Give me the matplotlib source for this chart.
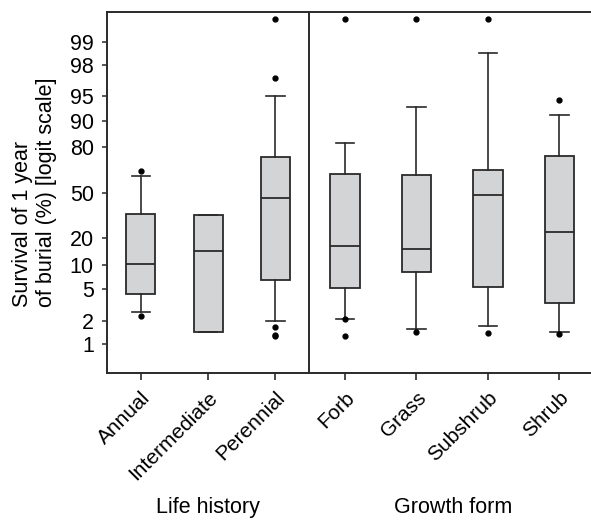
import matplotlib.pyplot as plt
from matplotlib.ticker import NullLocator, NullFormatter

plt.rcParams['font.family'] = ['Liberation Sans', 'DejaVu Sans']

# datos (porcentaje de supervivencia)
life_labels = ['Annual', 'Intermediate', 'Perennial']
life_q1 = [4.4, 1.43, 6.5]
life_med = [10.3, 14.5, 46.5]
life_q3 = [34.7, 33.8, 75.0]
life_lo = [2.6, 1.43, 2.0]
life_hi = [62.5, 33.8, 95.0]
life_fliers = [[66.0, 2.27], [], [99.5, 97.1, 1.66, 1.3, 1.24]]

form_labels = ['Forb', 'Grass', 'Subshrub', 'Shrub']
form_q1 = [5.2, 8.3, 5.3, 3.4]
form_med = [16.5, 15.3, 48.2, 23.3]
form_q3 = [63.7, 63.0, 66.7, 75.3]
form_lo = [2.1, 1.54, 1.68, 1.40]
form_hi = [81.9, 93.3, 98.6, 91.6]
form_fliers = [[99.5, 2.1, 1.24], [99.5, 1.43], [99.5, 1.38], [94.4, 1.32]]

ytick_vals = [1, 2, 5, 10, 20, 50, 80, 90, 95, 98, 99]

fig = plt.figure(figsize=(5.91, 5.22), dpi=100)
ax1 = fig.add_axes([0.181, 0.2854, 0.342, 0.6916])
ax2 = fig.add_axes([0.523, 0.2854, 0.484, 0.6916])

boxcol = '#d3d4d6'
linecol = '#2a2a2a'


def stats(q1, med, q3, lo, hi, fl):
    out = []
    for i in range(len(q1)):
        out.append({'q1': q1[i] / 100, 'med': med[i] / 100, 'q3': q3[i] / 100,
                    'whislo': lo[i] / 100, 'whishi': hi[i] / 100,
                    'fliers': [f / 100 for f in fl[i]]})
    return out


def draw(ax, st, labels, w):
    ax.set_yscale('logit')
    ax.bxp(st, positions=range(1, len(st) + 1), widths=w, capwidths=w * 0.63,
           patch_artist=True,
           boxprops=dict(facecolor=boxcol, edgecolor=linecol, linewidth=1.3),
           medianprops=dict(color=linecol, linewidth=1.3),
           whiskerprops=dict(color=linecol, linewidth=1.2),
           capprops=dict(color=linecol, linewidth=1.2),
           flierprops=dict(marker='o', markerfacecolor='black',
                           markeredgecolor='black', markersize=3.5))
    ax.set_ylim(0.0041, 0.996)
    ax.set_xticks(range(1, len(st) + 1))
    ax.set_xticklabels(labels, rotation=45, ha='right', rotation_mode='anchor',
                       fontsize=15)
    ax.tick_params(axis='x', length=5, width=1.2, color=linecol, pad=6)
    ax.yaxis.set_minor_locator(NullLocator())
    ax.yaxis.set_minor_formatter(NullFormatter())
    for s in ax.spines.values():
        s.set_linewidth(1.4)
        s.set_color(linecol)


draw(ax1, stats(life_q1, life_med, life_q3, life_lo, life_hi, life_fliers),
     life_labels, 0.43)
draw(ax2, stats(form_q1, form_med, form_q3, form_lo, form_hi, form_fliers),
     form_labels, 0.415)

ax1.set_xlim(0.5, 3.5)
ax1.set_yticks([v / 100 for v in ytick_vals])
ax1.set_yticklabels([str(v) for v in ytick_vals], fontsize=15.5)
ax1.tick_params(axis='y', length=3.5, width=1.1, color=linecol, pad=6)
ax1.spines['right'].set_visible(False)
ax1.set_ylabel('Survival of 1 year\nof burial (%) [logit scale]', fontsize=15.5,
               multialignment='left', labelpad=9)

ax2.set_xlim(0.5, 4.5)
ax2.set_yticks([])
ax2.spines['right'].set_visible(False)

fig.text(0.352, 0.008, 'Life history', ha='center', va='bottom', fontsize=15.5)
fig.text(0.766, 0.008, 'Growth form', ha='center', va='bottom', fontsize=15.5)

plt.savefig('out.png', dpi=100)
